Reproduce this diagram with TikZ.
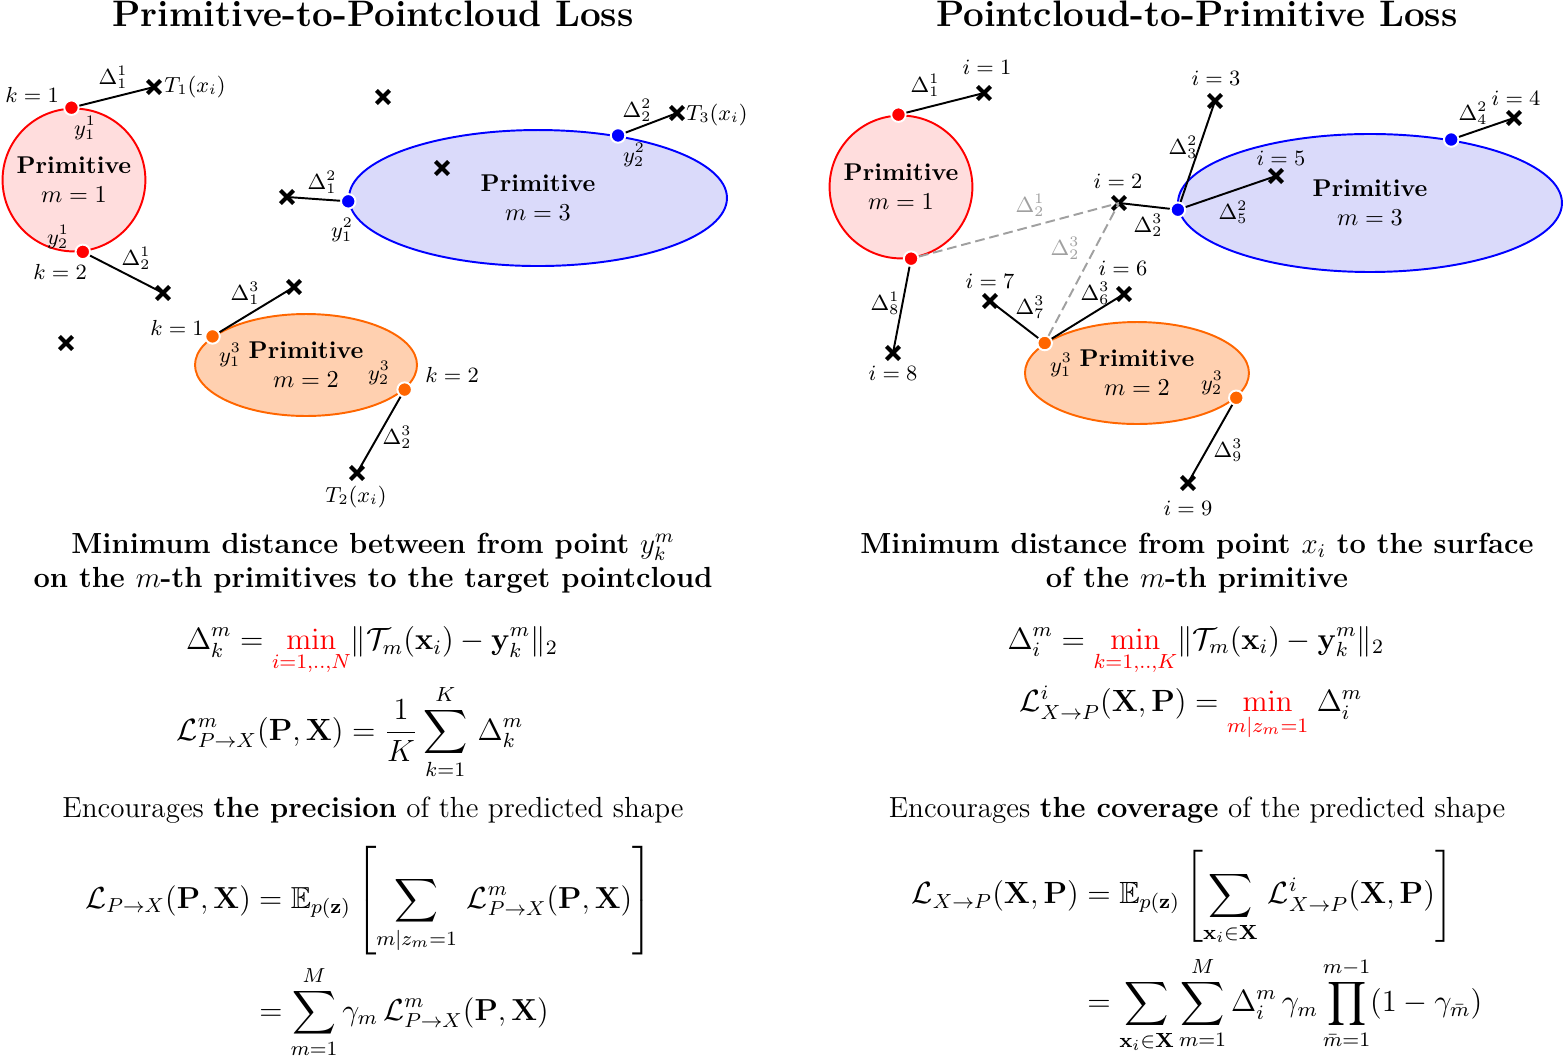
\documentclass[tikz,border=0pt]{standalone}
\usepackage{amsmath,amssymb}
\usepackage{xcolor}
\usepackage{tikz}
\usetikzlibrary{shapes.geometric,shapes.misc,positioning}

\definecolor{primred}{RGB}{255,0,0}
\definecolor{primredfill}{RGB}{255,221,221}
\definecolor{primblue}{RGB}{0,0,255}
\definecolor{primbluefill}{RGB}{218,218,250}
\definecolor{primorange}{RGB}{255,102,0}
\definecolor{primorangefill}{RGB}{255,208,176}
\definecolor{hintgray}{RGB}{160,160,160}

\tikzset{
  prim/.style={draw=#1, fill=#1fill, thick, align=center, inner sep=0pt},
  primcirc/.style={prim=#1, circle, minimum size=2.07cm},
  surf/.style={circle, fill=#1, draw=white, thick, inner sep=0pt, minimum size=0.21cm},
  xpt/.style={cross out, draw, line width=1.7pt, inner sep=0pt, minimum size=0.13cm},
  link/.style={thick},
  hint/.style={thick, dash pattern=on 4pt off 2pt, draw=hintgray},
  lbl/.style={font=\small, inner sep=1pt},
  ttl/.style={font=\Large\bfseries, anchor=base, scale=1.055, transform shape},
  formula/.style={font=\large, scale=1.055, transform shape},
}

\begin{document}
\begin{tikzpicture}
    \useasboundingbox (0,0) rectangle (22.696,-15.348);
    % primitive-to-pointcloud
    \node[ttl] (titl) at (5.406,-0.377) {Primitive-to-Pointcloud Loss};
    \node[primcirc=primred] (redL) at (1.072,-2.609) {\textbf{Primitive}\\$m=1$};
    \node[prim=primblue, ellipse, minimum width=5.478cm, minimum height=1.971cm] (blueL) at (7.797,-2.870) {\textbf{Primitive}\\$m=3$};
    \node[prim=primorange, ellipse, minimum width=3.217cm, minimum height=1.478cm] (orangeL) at (4.435,-5.290) {\textbf{Primitive}\\$m=2$};
    \node[surf=primred] (ra) at (redL.92) {};
    \node[surf=primred] (rb) at (redL.277) {};
    \node[surf=primblue] (ba) at (blueL.181.5) {};
    \node[surf=primblue] (bb) at (blueL.38.9) {};
    \node[surf=primorange] (oa) at (orangeL.163.4) {};
    \node[surf=primorange] (ob) at (orangeL.346.8) {};
    \node[xpt] (xa) at (2.232,-1.261) {};
    \node[xpt] (xb) at (5.551,-1.406) {};
    \node[xpt] (xc) at (6.406,-2.435) {};
    \node[xpt] (xd) at (4.159,-2.855) {};
    \node[xpt] (xe) at (9.812,-1.638) {};
    \node[xpt] (xf) at (2.362,-4.246) {};
    \node[xpt] (xg) at (4.261,-4.159) {};
    \node[xpt] (xh) at (0.957,-4.971) {};
    \node[xpt] (xi) at (5.174,-6.855) {};
    \draw[link] (ra) -- (xa.center);
    \draw[link] (rb) -- (xf.center);
    \draw[link] (ba) -- (xd.center);
    \draw[link] (bb) -- (xe.center);
    \draw[link] (oa) -- (xg.center);
    \draw[link] (ob) -- (xi.center);
    \node[lbl] (ka) at (0.464,-1.377) {$k=1$};
    \node[lbl] (dka) at (1.638,-1.116) {$\Delta_1^1$};
    \node[lbl] (yka) at (1.232,-1.855) {$y_1^1$};
    \node[lbl] (ta) at (2.826,-1.261) {$T_1(x_i)$};
    \node[lbl] (ykb) at (0.841,-3.435) {$y_2^1$};
    \node[lbl] (kb) at (0.870,-3.942) {$k=2$};
    \node[lbl] (dkb) at (1.971,-3.739) {$\Delta_2^1$};
    \node[lbl] (dkc) at (4.667,-2.638) {$\Delta_1^2$};
    \node[lbl] (ykc) at (4.957,-3.333) {$y_1^2$};
    \node[lbl] (dkd) at (9.232,-1.594) {$\Delta_2^2$};
    \node[lbl] (ykd) at (9.188,-2.246) {$y_2^2$};
    \node[lbl] (tc) at (10.391,-1.667) {$T_3(x_i)$};
    \node[lbl] (dke) at (3.551,-4.246) {$\Delta_1^3$};
    \node[lbl] (kc) at (2.565,-4.754) {$k=1$};
    \node[lbl] (yke) at (3.333,-5.145) {$y_1^3$};
    \node[lbl] (ykf) at (5.493,-5.406) {$y_2^3$};
    \node[lbl] (kd) at (6.551,-5.435) {$k=2$};
    \node[lbl] (dkf) at (5.754,-6.333) {$\Delta_2^3$};
    \node[lbl] (tb) at (5.159,-7.203) {$T_2(x_i)$};
    % pointcloud-to-primitive
    \node[ttl] (titr) at (17.348,-0.377) {Pointcloud-to-Primitive Loss};
    \node[primcirc=primred] (redR) at (13.058,-2.710) {\textbf{Primitive}\\$m=1$};
    \node[prim=primblue, ellipse, minimum width=5.565cm, minimum height=2.0cm] (blueR) at (19.855,-2.942) {\textbf{Primitive}\\$m=3$};
    \node[prim=primorange, ellipse, minimum width=3.246cm, minimum height=1.478cm] (orangeR) at (16.478,-5.406) {\textbf{Primitive}\\$m=2$};
    \node[surf=primred] (rc) at (redR.92.3) {};
    \node[surf=primred] (rd) at (redR.278.8) {};
    \node[surf=primblue] (bc) at (blueR.182) {};
    \node[surf=primblue] (bd) at (blueR.38.1) {};
    \node[surf=primorange] (oc) at (orangeR.162.5) {};
    \node[surf=primorange] (od) at (orangeR.346.4) {};
    \node[xpt] (p1) at (14.261,-1.348) {};
    \node[xpt] (p2) at (16.217,-2.942) {};
    \node[xpt] (p3) at (17.609,-1.464) {};
    \node[xpt] (p4) at (21.942,-1.710) {};
    \node[xpt] (p5) at (18.493,-2.551) {};
    \node[xpt] (p6) at (16.290,-4.261) {};
    \node[xpt] (p7) at (14.348,-4.362) {};
    \node[xpt] (p8) at (12.942,-5.116) {};
    \node[xpt] (p9) at (17.217,-7.0) {};
    \draw[hint] (rd) -- (p2.center);
    \draw[hint] (oc) -- (p2.center);
    \draw[link] (rc) -- (p1.center);
    \draw[link] (rd) -- (p8.center);
    \draw[link] (bc) -- (p2.center);
    \draw[link] (bc) -- (p3.center);
    \draw[link] (bc) -- (p5.center);
    \draw[link] (bd) -- (p4.center);
    \draw[link] (oc) -- (p7.center);
    \draw[link] (oc) -- (p6.center);
    \draw[link] (od) -- (p9.center);
    \node[lbl] (ia) at (14.304,-0.971) {$i=1$};
    \node[lbl] (dia) at (13.406,-1.232) {$\Delta_1^1$};
    \node[lbl] (ib) at (16.203,-2.623) {$i=2$};
    \node[lbl, text=hintgray] (dib) at (14.928,-2.971) {$\Delta_2^1$};
    \node[lbl, text=hintgray] (dic) at (15.435,-3.594) {$\Delta_2^3$};
    \node[lbl] (did) at (16.638,-3.261) {$\Delta_2^3$};
    \node[lbl] (ic) at (17.623,-1.130) {$i=3$};
    \node[lbl] (die) at (17.145,-2.130) {$\Delta_3^2$};
    \node[lbl] (ie) at (18.565,-2.290) {$i=5$};
    \node[lbl] (dif) at (17.870,-3.072) {$\Delta_5^2$};
    \node[lbl] (id) at (21.971,-1.420) {$i=4$};
    \node[lbl] (dig) at (21.348,-1.638) {$\Delta_4^2$};
    \node[lbl] (dih) at (12.826,-4.391) {$\Delta_8^1$};
    \node[lbl] (ih) at (12.942,-5.406) {$i=8$};
    \node[lbl] (ig) at (14.348,-4.072) {$i=7$};
    \node[lbl] (dii) at (14.928,-4.449) {$\Delta_7^3$};
    \node[lbl] (if) at (16.275,-3.884) {$i=6$};
    \node[lbl] (dij) at (15.870,-4.246) {$\Delta_6^3$};
    \node[lbl] (yia) at (15.377,-5.290) {$y_1^3$};
    \node[lbl] (yib) at (17.565,-5.551) {$y_2^3$};
    \node[lbl] (dik) at (17.797,-6.522) {$\Delta_9^3$};
    \node[lbl] (ii) at (17.217,-7.362) {$i=9$};
    % formulas, left
    \node[font=\large\bfseries, align=center] (hdl) at (5.406,-8.159) {Minimum distance between from point $y_k^m$\\on the $m$-th primitives to the target pointcloud};
    \node[formula] (eql1) at (5.391,-9.435) {$\displaystyle \Delta_k^m = \textcolor{red}{\min_{i=1,..,N}}\|\mathcal{T}_m(\mathbf{x}_i)-\mathbf{y}_k^m\|_2$};
    \node[formula] (eql2) at (5.072,-10.609) {$\displaystyle \mathcal{L}^m_{P\rightarrow X}(\mathbf{P},\mathbf{X}) = \frac{1}{K}\sum_{k=1}^{K}\,\Delta_k^m$};
    \node[font=\large] (encl) at (5.406,-11.739) {Encourages \textbf{the precision} of the predicted shape};
    \node[formula, scale=0.99] (eql3) at (5.348,-13.800) {$\displaystyle\begin{aligned}
        \mathcal{L}_{P\rightarrow X}(\mathbf{P},\mathbf{X}) &= \mathbb{E}_{p(\mathbf{z})}\left[\sum_{m|z_m=1}\,\mathcal{L}^m_{P\rightarrow X}(\mathbf{P},\mathbf{X})\right]\\
        &= \sum_{m=1}^{M}\gamma_m\,\mathcal{L}^m_{P\rightarrow X}(\mathbf{P},\mathbf{X})
    \end{aligned}$};
    % formulas, right
    \node[font=\large\bfseries, align=center] (hdr) at (17.348,-8.159) {Minimum distance from point $x_i$ to the surface\\of the $m$-th primitive};
    \node[formula] (eqr1) at (17.333,-9.435) {$\displaystyle \Delta_i^m = \textcolor{red}{\min_{k=1,..,K}}\|\mathcal{T}_m(\mathbf{x}_i)-\mathbf{y}_k^m\|_2$};
    \node[formula] (eqr2) at (17.261,-10.333) {$\displaystyle \mathcal{L}^i_{X\rightarrow P}(\mathbf{X},\mathbf{P}) = \textcolor{red}{\min_{m|z_m=1}}\;\Delta_i^m$};
    \node[font=\large] (encr) at (17.348,-11.739) {Encourages \textbf{the coverage} of the predicted shape};
    \node[formula] (eqr3) at (17.348,-13.797) {$\displaystyle\begin{aligned}
        \mathcal{L}_{X\rightarrow P}(\mathbf{X},\mathbf{P}) &= \mathbb{E}_{p(\mathbf{z})}\left[\sum_{\mathbf{x}_i\in\mathbf{X}}\,\mathcal{L}^i_{X\rightarrow P}(\mathbf{X},\mathbf{P})\right]\\
        &= \sum_{\mathbf{x}_i\in\mathbf{X}}\sum_{m=1}^{M}\Delta_i^m\,\gamma_m\prod_{\bar{m}=1}^{m-1}(1-\gamma_{\bar{m}})
    \end{aligned}$};
\end{tikzpicture}
\end{document}
